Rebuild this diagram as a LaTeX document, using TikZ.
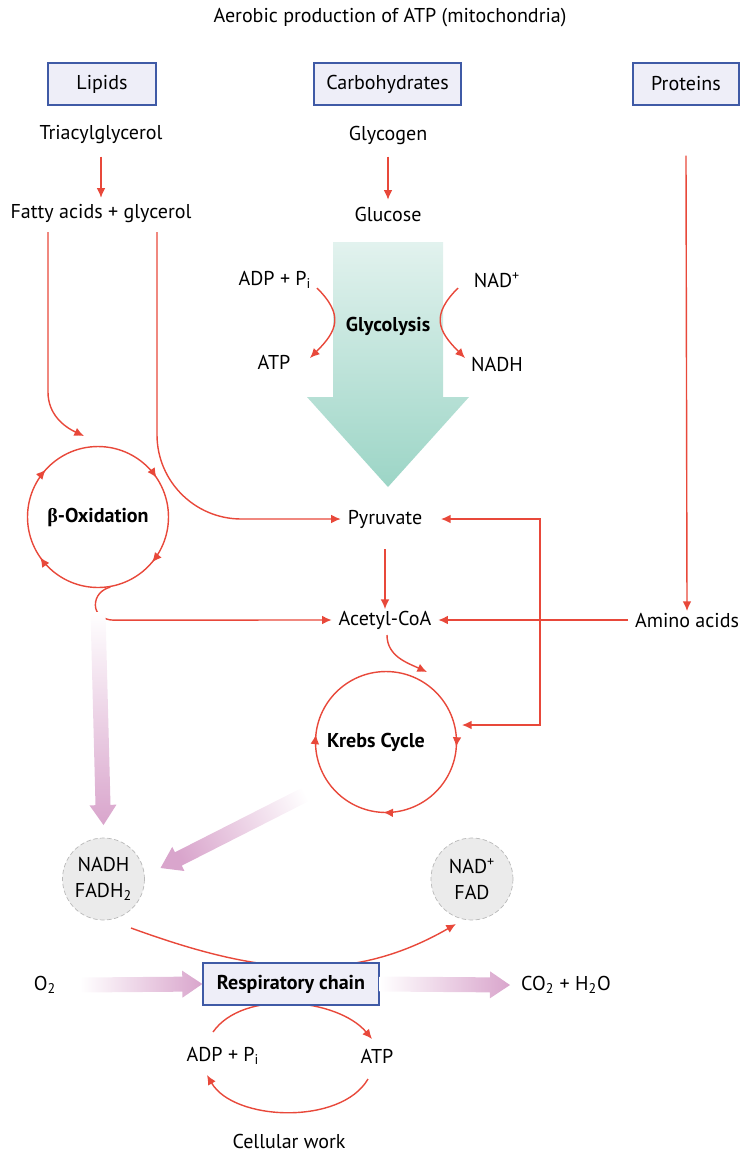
\documentclass[tikz,border=0pt]{standalone}
\usepackage{fontspec}
\setmainfont{PT Sans}
\newfontfamily\greekfont{Liberation Serif}
\usetikzlibrary{arrows.meta, calc, decorations.markings}

\definecolor{arrred}{HTML}{E8483A}
\definecolor{boxblue}{HTML}{3F5AA6}
\definecolor{boxfill}{HTML}{EEEEF8}
\definecolor{carrfill}{HTML}{EBEBEB}
\definecolor{pinkarr}{HTML}{D9A5CC}
\definecolor{glyctop}{HTML}{E2F2EE}
\definecolor{glycbot}{HTML}{9CD5C6}

%% broad shaded arrow: start, tip, shading angle
\newcommand{\fadearrow}[3]{%
  \coordinate (fh) at ($(#2)!0.4cm!(#1)$);
  \shade[top color=pinkarr, bottom color=white, shading angle=#3]
    ($(#1)!0.15cm!90:(#2)$) -- ($(fh)!0.15cm!-90:(#1)$)
    -- ($(fh)!0.27cm!-90:(#1)$) -- (#2)
    -- ($(fh)!0.27cm!90:(#1)$) -- ($(fh)!0.15cm!90:(#1)$)
    -- ($(#1)!0.15cm!-90:(#2)$) -- cycle;
}

\begin{document}
\fontsize{11.4}{14.5}\selectfont
\begin{tikzpicture}[
    x=0.02cm, y=-0.02cm,
    src/.style={rectangle, draw=boxblue, fill=boxfill, line width=0.8pt,
                minimum height=0.84cm},
    cyc/.style={circle, draw=arrred, line width=0.8pt, minimum size=2.82cm,
                inner sep=0pt, postaction=decorate},
    carrier/.style={circle, draw=gray!55, dash pattern=on 2.5pt off 1.5pt,
                    fill=carrfill, minimum size=1.64cm, inner sep=0pt, align=center},
    arr/.style={-{Latex[length=5.5pt,width=5pt]}, arrred, line width=0.8pt},
    twoarr/.style={{Latex[length=5.5pt,width=5pt]}-{Latex[length=5.5pt,width=5pt]},
                   arrred, line width=0.8pt},
    tip/.style={decoration={markings,
                mark=at position #1 with {\arrowreversed{Latex[length=5.5pt,width=5pt]}}}},
]

  \useasboundingbox (0,0) rectangle (740,1154);

  %% ---- title and the three sources ----
  \node (title) at (390,18) {Aerobic production of ATP (mitochondria)};
  \node[src, minimum width=2.16cm] (lipids)   at (102,84)   {Lipids};
  \node[src, minimum width=2.94cm] (carbs)    at (387.5,84) {Carbohydrates};
  \node[src, minimum width=2.12cm] (proteins) at (686,84)   {Proteins};

  \node (tag)      at (101,135) {Triacylglycerol};
  \node (fa)       at (101,214) {Fatty acids + glycerol};
  \node (glycogen) at (388,135) {Glycogen};
  \node (glucose)  at (388,214) {Glucose};

  \draw[arr, shorten <=3pt] (tag) -- (fa);
  \draw[arr, shorten <=3pt] (glycogen) -- (glucose);

  %% ---- glycolysis ----
  \shade[top color=glyctop, bottom color=glycbot]
    (333,242) -- (443,242) -- (443,397) -- (469,397) -- (388,487)
    -- (307,397) -- (333,397) -- cycle;
  \node[font=\bfseries] (glyc) at (388,326) {Glycolysis};
  \node (adp1)   at (275,280) {ADP + P\textsubscript{i}};
  \node (atp1)   at (274,362) {ATP};
  \node (nadox1) at (497,280) {NAD\textsuperscript{+}};
  \node (nadh1)  at (497,364) {NADH};
  \draw[arr] ([shift={(42,8)}]adp1.center) to[out=-45, in=45, looseness=1.4]
             ([shift={(36,-4)}]atp1.center);
  \draw[arr] ([shift={(-39,8)}]nadox1.center) to[out=-135, in=135, looseness=1.4]
             ([shift={(-32,-6)}]nadh1.center);

  %% ---- beta oxidation ----
  \node[cyc, tip=0.094, tip=0.383, tip=0.597, tip=0.889] (betaox) at (98,517)
       {{\greekfont\bfseries β}\textbf{-Oxidation}};
  \coordinate (bo-in) at ([shift={(-14,-81)}]betaox.center);
  \draw[arr] ([shift={(-53,18)}]fa.center) -- ++(0,160) to[out=-90, in=155] (bo-in);

  %% ---- pyruvate, acetyl-CoA, amino acids ----
  \node (pyruvate) at (385,519) {Pyruvate};
  \node (acetyl)   at (385,620) {Acetyl-CoA};
  \node (amino)    at (687,620) {Amino acids};

  \draw[arr, rounded corners=48pt] ([shift={(56,18)}]fa.center) |- (pyruvate.west);
  \draw[arr] (betaox.-80) to[out=195, in=90] ++(-15,18) to[out=-90, in=180] ++(18,15)
             -- (acetyl.west);
  \draw[arr, shorten <=8pt, shorten >=-3pt] (pyruvate) -- (acetyl);
  \draw[arr, shorten >=-3pt] ([shift={(0,50)}]proteins.south) -- (amino.north);
  \draw[arr] (amino.west) -- (acetyl.east);

  %% ---- Krebs cycle ----
  \node[cyc, tip=0.483, tip=0.744, tip=0.989] (krebs) at (386,742) {};
  \node[font=\bfseries] (krebslbl) at (376,742) {Krebs Cycle};
  \coordinate (kr-in)  at ([shift={(76,-17)}]krebs.center);
  \coordinate (kr-top) at ([shift={(41,-70)}]krebs.center);
  \draw[twoarr] ([shift={(56,0)}]pyruvate.center) -- ++(99,0) |- (kr-in);
  \draw[arr] ([shift={(2,15)}]acetyl.center) to[out=-90, in=155] (kr-top);

  %% ---- carriers ----
  \node[carrier] (nadh)   at (103.5,879) {NADH\\FADH\textsubscript{2}};
  \node[carrier] (nadox2) at (472,879)   {NAD\textsuperscript{+}\\FAD};

  %% ---- broad pink arrows ----
  \coordinate (bo-a) at ([shift={(0,95)}]betaox.center);
  \coordinate (bo-b) at ([shift={(0,-54)}]nadh.center);
  \fadearrow{bo-a}{bo-b}{180}
  \coordinate (kr-a) at ([shift={(-64,44)}]krebs.center);
  \coordinate (kr-b) at ([shift={(57,-11)}]nadh.center);
  \fadearrow{kr-a}{kr-b}{116.8}

  %% ---- respiratory chain ----
  \node (o2)  at (45,985)  {O\textsubscript{2}};
  \node (co2) at (566,985) {CO\textsubscript{2} + H\textsubscript{2}O};
  \node (adp2) at (223,1056) {ADP + P\textsubscript{i}};
  \node (atp2) at (377,1056) {ATP};
  \node (work) at (289,1141) {Cellular work};

  \draw[arr] ([shift={(27.5,49)}]nadh.center) to[out=-20, in=210]
             ([shift={(-16,45)}]nadox2.center);
  \draw[arr] ([shift={(-10,-24)}]adp2.center) to[out=55, in=130, looseness=0.85]
             ([shift={(-5,-17)}]atp2.center);
  \draw[arr] ([shift={(-9,23)}]atp2.center) to[out=-120, in=-60, looseness=0.85]
             ([shift={(-16,19)}]adp2.center);

  \node[src, font=\bfseries, minimum width=3.52cm] (resp) at (291,984) {Respiratory chain};

  \coordinate (o2-a) at ([shift={(35,0)}]o2.center);
  \fadearrow{o2-a}{resp.west}{-90}
  \coordinate (co2-b) at ([shift={(-56,0)}]co2.center);
  \fadearrow{resp.east}{co2-b}{-90}

\end{tikzpicture}
\end{document}
